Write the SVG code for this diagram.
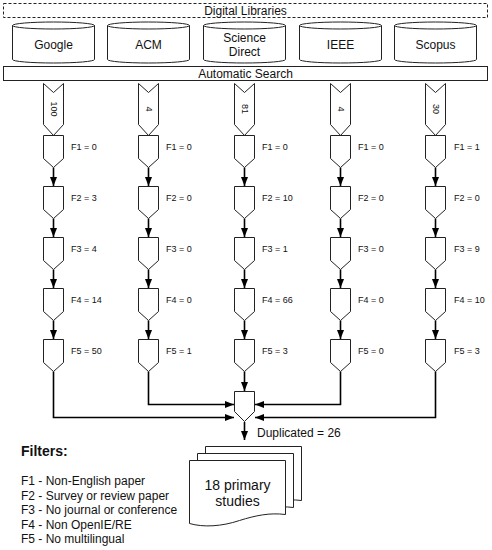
<svg xmlns="http://www.w3.org/2000/svg" width="492" height="550" viewBox="0 0 492 550">
<style>
text{font-family:"Liberation Sans",Arial,sans-serif;fill:#111}
.s{fill:#fff;stroke:#222;stroke-width:1}
.t12{font-size:12px;text-anchor:middle}
.lab{font-size:9px}
.chev{font-size:9px;text-anchor:middle}
.c{fill:none;stroke:#000;stroke-width:1.6}
.leg{font-size:12px}
</style>
<defs>
<marker id="ah" viewBox="0 0 9 7" refX="9" refY="3.5" markerWidth="9" markerHeight="7" markerUnits="userSpaceOnUse" orient="auto">
<path d="M0,0 L9,3.5 L0,7 Z" fill="#000"/>
</marker>
<path id="filt" d="M-10,0 H10 V23 L0,32 L-10,23 Z"/>
<path id="chv" d="M-10,0 L0,9 L10,0 V41 L0,52 L-10,41 Z"/>
<path id="doc" d="M0,0 H96 V54 C80,52 66,55 50,60 C32,66 14,67 0,63 Z"/>
</defs>

<g id="digital-libraries">
<rect class="s" x="3.5" y="3.5" width="484" height="14" stroke-dasharray="3,2"/>
<text class="t12" x="245.5" y="15">Digital Libraries</text>
</g>

<g id="db-google">
<path class="s" d="M12.5,25.5 A41,3.5 0 0 1 94.5,25.5 V59.5 A41,3.5 0 0 1 12.5,59.5 Z M12.5,25.5 A41,3.5 0 0 0 94.5,25.5"/>
<text class="t12" x="53.5" y="49">Google</text>
</g>
<g id="db-acm">
<path class="s" d="M107.5,25.5 A41,3.5 0 0 1 189.5,25.5 V59.5 A41,3.5 0 0 1 107.5,59.5 Z M107.5,25.5 A41,3.5 0 0 0 189.5,25.5"/>
<text class="t12" x="148.5" y="49">ACM</text>
</g>
<g id="db-sciencedirect">
<path class="s" d="M203.5,25.5 A41,3.5 0 0 1 285.5,25.5 V59.5 A41,3.5 0 0 1 203.5,59.5 Z M203.5,25.5 A41,3.5 0 0 0 285.5,25.5"/>
<text class="t12" x="244.5" y="42">Science</text>
<text class="t12" x="244.5" y="56">Direct</text>
</g>
<g id="db-ieee">
<path class="s" d="M299.5,25.5 A41,3.5 0 0 1 381.5,25.5 V59.5 A41,3.5 0 0 1 299.5,59.5 Z M299.5,25.5 A41,3.5 0 0 0 381.5,25.5"/>
<text class="t12" x="340.5" y="49">IEEE</text>
</g>
<g id="db-scopus">
<path class="s" d="M394.5,25.5 A41,3.5 0 0 1 476.5,25.5 V59.5 A41,3.5 0 0 1 394.5,59.5 Z M394.5,25.5 A41,3.5 0 0 0 476.5,25.5"/>
<text class="t12" x="435.5" y="49">Scopus</text>
</g>

<g id="automatic-search">
<rect class="s" x="3.5" y="66.5" width="484" height="14"/>
<text class="t12" x="245.5" y="78">Automatic Search</text>
</g>

<g id="chevrons">
<g id="chev-google"><use href="#chv" class="s" x="53.5" y="83.5"/><text class="chev" transform="translate(53.5,109) rotate(90)" y="3">100</text></g>
<g id="chev-acm"><use href="#chv" class="s" x="148.5" y="83.5"/><text class="chev" transform="translate(148.5,109) rotate(90)" y="3">4</text></g>
<g id="chev-sd"><use href="#chv" class="s" x="244.5" y="83.5"/><text class="chev" transform="translate(244.5,109) rotate(90)" y="3">81</text></g>
<g id="chev-ieee"><use href="#chv" class="s" x="340.5" y="83.5"/><text class="chev" transform="translate(340.5,109) rotate(90)" y="3">4</text></g>
<g id="chev-scopus"><use href="#chv" class="s" x="435.5" y="83.5"/><text class="chev" transform="translate(435.5,109) rotate(90)" y="3">30</text></g>
</g>

<g id="connectors">
<path class="c" marker-end="url(#ah)" d="M53.5,167.5 V186"/>
<path class="c" marker-end="url(#ah)" d="M53.5,218.5 V237"/>
<path class="c" marker-end="url(#ah)" d="M53.5,269.5 V288"/>
<path class="c" marker-end="url(#ah)" d="M53.5,320.5 V339"/>
<path class="c" marker-end="url(#ah)" d="M148.5,167.5 V186"/>
<path class="c" marker-end="url(#ah)" d="M148.5,218.5 V237"/>
<path class="c" marker-end="url(#ah)" d="M148.5,269.5 V288"/>
<path class="c" marker-end="url(#ah)" d="M148.5,320.5 V339"/>
<path class="c" marker-end="url(#ah)" d="M244.5,167.5 V186"/>
<path class="c" marker-end="url(#ah)" d="M244.5,218.5 V237"/>
<path class="c" marker-end="url(#ah)" d="M244.5,269.5 V288"/>
<path class="c" marker-end="url(#ah)" d="M244.5,320.5 V339"/>
<path class="c" marker-end="url(#ah)" d="M340.5,167.5 V186"/>
<path class="c" marker-end="url(#ah)" d="M340.5,218.5 V237"/>
<path class="c" marker-end="url(#ah)" d="M340.5,269.5 V288"/>
<path class="c" marker-end="url(#ah)" d="M340.5,320.5 V339"/>
<path class="c" marker-end="url(#ah)" d="M435.5,167.5 V186"/>
<path class="c" marker-end="url(#ah)" d="M435.5,218.5 V237"/>
<path class="c" marker-end="url(#ah)" d="M435.5,269.5 V288"/>
<path class="c" marker-end="url(#ah)" d="M435.5,320.5 V339"/>
<path class="c" marker-end="url(#ah)" d="M53.5,371.5 V417.5 H234"/>
<path class="c" marker-end="url(#ah)" d="M148.5,371.5 V404.5 H234"/>
<path class="c" marker-end="url(#ah)" d="M244.5,371.5 V391"/>
<path class="c" marker-end="url(#ah)" d="M340.5,371.5 V404.5 H255"/>
<path class="c" marker-end="url(#ah)" d="M435.5,371.5 V417.5 H255"/>
<path class="c" marker-end="url(#ah)" d="M244.5,422 V440"/>
</g>

<g id="filters-google">
<use href="#filt" class="s" x="53.5" y="135.5"/><text class="lab" x="71" y="150">F1 = 0</text>
<use href="#filt" class="s" x="53.5" y="186.5"/><text class="lab" x="71" y="201">F2 = 3</text>
<use href="#filt" class="s" x="53.5" y="237.5"/><text class="lab" x="71" y="252">F3 = 4</text>
<use href="#filt" class="s" x="53.5" y="288.5"/><text class="lab" x="71" y="303">F4 = 14</text>
<use href="#filt" class="s" x="53.5" y="339.5"/><text class="lab" x="71" y="354">F5 = 50</text>
</g>
<g id="filters-acm">
<use href="#filt" class="s" x="148.5" y="135.5"/><text class="lab" x="166" y="150">F1 = 0</text>
<use href="#filt" class="s" x="148.5" y="186.5"/><text class="lab" x="166" y="201">F2 = 0</text>
<use href="#filt" class="s" x="148.5" y="237.5"/><text class="lab" x="166" y="252">F3 = 0</text>
<use href="#filt" class="s" x="148.5" y="288.5"/><text class="lab" x="166" y="303">F4 = 0</text>
<use href="#filt" class="s" x="148.5" y="339.5"/><text class="lab" x="166" y="354">F5 = 1</text>
</g>
<g id="filters-sd">
<use href="#filt" class="s" x="244.5" y="135.5"/><text class="lab" x="262" y="150">F1 = 0</text>
<use href="#filt" class="s" x="244.5" y="186.5"/><text class="lab" x="262" y="201">F2 = 10</text>
<use href="#filt" class="s" x="244.5" y="237.5"/><text class="lab" x="262" y="252">F3 = 1</text>
<use href="#filt" class="s" x="244.5" y="288.5"/><text class="lab" x="262" y="303">F4 = 66</text>
<use href="#filt" class="s" x="244.5" y="339.5"/><text class="lab" x="262" y="354">F5 = 3</text>
</g>
<g id="filters-ieee">
<use href="#filt" class="s" x="340.5" y="135.5"/><text class="lab" x="358" y="150">F1 = 0</text>
<use href="#filt" class="s" x="340.5" y="186.5"/><text class="lab" x="358" y="201">F2 = 0</text>
<use href="#filt" class="s" x="340.5" y="237.5"/><text class="lab" x="358" y="252">F3 = 0</text>
<use href="#filt" class="s" x="340.5" y="288.5"/><text class="lab" x="358" y="303">F4 = 0</text>
<use href="#filt" class="s" x="340.5" y="339.5"/><text class="lab" x="358" y="354">F5 = 0</text>
</g>
<g id="filters-scopus">
<use href="#filt" class="s" x="435.5" y="135.5"/><text class="lab" x="454" y="150">F1 = 1</text>
<use href="#filt" class="s" x="435.5" y="186.5"/><text class="lab" x="454" y="201">F2 = 0</text>
<use href="#filt" class="s" x="435.5" y="237.5"/><text class="lab" x="454" y="252">F3 = 9</text>
<use href="#filt" class="s" x="435.5" y="288.5"/><text class="lab" x="454" y="303">F4 = 10</text>
<use href="#filt" class="s" x="435.5" y="339.5"/><text class="lab" x="454" y="354">F5 = 3</text>
</g>

<g id="merge">
<path class="s" d="M234.5,391.5 H254.5 V411.5 L244.5,421.5 L234.5,411.5 Z"/>
<text x="257" y="437" style="font-size:12px">Duplicated = 26</text>
</g>

<g id="primary-studies">
<use href="#doc" class="s" x="205.5" y="446.5"/>
<use href="#doc" class="s" x="197.5" y="453.5"/>
<use href="#doc" class="s" x="189.5" y="460.5"/>
<text x="237.5" y="490" style="font-size:14px;text-anchor:middle">18 primary</text>
<text x="237.5" y="506" style="font-size:14px;text-anchor:middle">studies</text>
</g>

<g id="legend">
<text x="21" y="456" style="font-size:14px;font-weight:bold">Filters:</text>
<text class="leg" x="21" y="485">F1 - Non-English paper</text>
<text class="leg" x="21" y="499.5">F2 - Survey or review paper</text>
<text class="leg" x="21" y="514">F3 - No journal or conference</text>
<text class="leg" x="21" y="528.5">F4 - Non OpenIE/RE</text>
<text class="leg" x="21" y="543">F5 - No multilingual</text>
</g>
</svg>
